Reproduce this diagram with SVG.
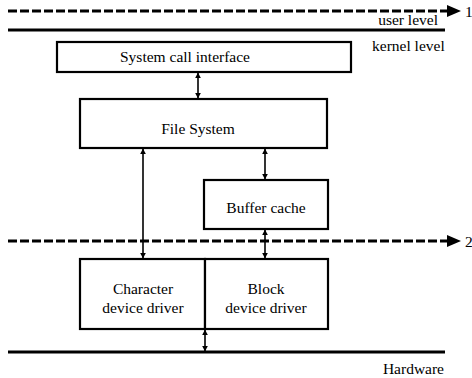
<svg xmlns="http://www.w3.org/2000/svg" width="472" height="378" viewBox="0 0 472 378">
<defs>
<marker id="ah" viewBox="0 0 10 10" refX="9" refY="5" markerWidth="6" markerHeight="7" markerUnits="userSpaceOnUse" orient="auto-start-reverse">
<path d="M0,0 L10,5 L0,10 z" fill="#000"/>
</marker>
</defs>
<style>
text{font-family:"Liberation Serif","Times New Roman",serif;font-size:15.5px;fill:#000}
.box{fill:#fff;stroke:#000;stroke-width:2.2}
.dash{stroke:#000;stroke-width:3.2;stroke-dasharray:9 3;fill:none}
.solid{stroke:#000;stroke-width:3;fill:none}
.conn{stroke:#000;stroke-width:1.6;fill:none;marker-start:url(#ah);marker-end:url(#ah)}
.c{text-anchor:middle}
.r{text-anchor:end}
</style>
<rect width="472" height="378" fill="#fff"/>
<g id="levels">
<line class="dash" x1="8" y1="11" x2="448" y2="11"/>
<path d="M447,5 L461,11 L447,17 z" fill="#000"/>
<text x="465" y="17">1</text>
<line class="solid" x1="8" y1="30" x2="445" y2="30"/>
<text class="r" x="438" y="25">user level</text>
<text x="372" y="51">kernel level</text>
<line class="dash" x1="8" y1="241" x2="448" y2="241"/>
<path d="M447,235 L461,241 L447,247 z" fill="#000"/>
<text x="465" y="247">2</text>
<line class="solid" x1="8" y1="352" x2="445" y2="352"/>
<text class="r" x="444" y="374">Hardware</text>
</g>
<g id="connectors">
<line class="conn" x1="198" y1="73" x2="198" y2="98"/>
<line class="conn" x1="143" y1="149" x2="143" y2="258"/>
<line class="conn" x1="265" y1="149" x2="265" y2="179"/>
<line class="conn" x1="265" y1="230" x2="265" y2="258"/>
<line class="conn" x1="205" y1="330" x2="205" y2="351"/>
</g>
<g id="syscall">
<rect class="box" x="57" y="42" width="294" height="30"/>
<text class="c" x="185" y="62">System call interface</text>
</g>
<g id="filesystem">
<rect class="box" x="80" y="99" width="247" height="49"/>
<text class="c" x="198" y="134">File System</text>
</g>
<g id="buffercache">
<rect class="box" x="204" y="180" width="124" height="49"/>
<text class="c" x="266" y="213">Buffer cache</text>
</g>
<g id="chardriver">
<rect class="box" x="80" y="259" width="125" height="70"/>
<text class="c" x="143" y="294">Character</text>
<text class="c" x="143" y="313">device driver</text>
</g>
<g id="blockdriver">
<rect class="box" x="205" y="259" width="123" height="70"/>
<text class="c" x="266" y="294">Block</text>
<text class="c" x="266" y="313">device driver</text>
</g>
</svg>
